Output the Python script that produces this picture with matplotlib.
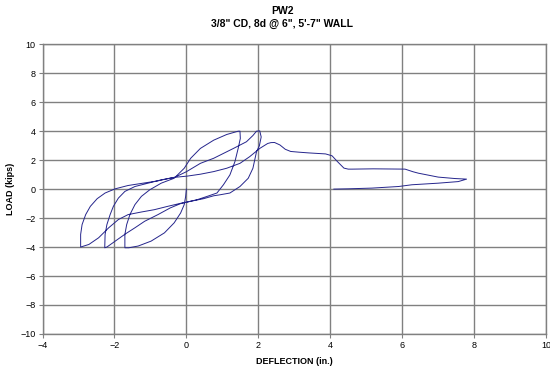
import matplotlib.pyplot as plt

plt.rcParams['font.family'] = ['Liberation Sans', 'DejaVu Sans']

# deflection (in.) and load (kips), in test order
# 0 -> N1 -> P1 -> N2 -> P2 -> N3 -> final push -> unload
defl = [0.0, -0.02, -0.06, -0.16, -0.34, -0.61, -0.98, -1.34, -1.6, -1.71,
        -1.71, -1.66, -1.57, -1.43, -1.25, -1.02, -0.7, -0.34, -0.06, 0.12, 0.39, 0.76, 1.12, 1.44, 1.49,
        1.5, 1.44, 1.35, 1.21, 1.03, 0.85, 0.58, 0.3, 0.03, -0.16, -0.45, -0.79, -1.16, -1.43, -1.7,
        -1.98, -2.21, -2.27,
        -2.26, -2.21, -2.12, -2.03, -1.89, -1.71, -1.43, -1.07, -0.7, -0.34, 0.0, 0.39, 0.76, 1.31,
        1.67, 1.85, 1.95, 2.04,
        2.08, 2.03, 1.95, 1.85, 1.72, 1.49, 1.21, 0.94, 0.76, 0.48, 0.03, -0.16, -0.52, -0.89, -1.25,
        -1.62, -1.89, -2.16, -2.44, -2.71, -2.94,
        -2.94, -2.9, -2.8, -2.67, -2.48, -2.26, -1.98, -1.62, -1.25, -0.79, -0.38, 0.03, 0.39, 0.76,
        1.12, 1.49, 1.76, 2.04, 2.26, 2.35, 2.45, 2.6, 2.75, 2.9, 3.13, 3.4, 3.87, 4.05, 4.2, 4.38,
        4.5, 4.61, 5.2, 6.08, 6.3, 6.45, 7.0, 7.47, 7.79,
        7.56, 7.0, 6.27, 5.9, 5.16, 4.5, 4.1]
load = [0.0, -0.5, -1.07, -1.65, -2.33, -3.02, -3.59, -3.93, -4.05, -4.05,
        -3.13, -2.45, -1.76, -1.07, -0.5, -0.05, 0.41, 0.75, 1.44, 2.13, 2.81, 3.38, 3.77, 4.0, 4.0,
        3.5, 2.81, 1.9, 0.98, 0.3, -0.27, -0.5, -0.73, -0.89, -1.0, -1.3, -1.76, -2.22, -2.67, -3.1,
        -3.59, -4.0, -4.05,
        -3.13, -2.45, -1.76, -1.19, -0.62, -0.16, 0.18, 0.41, 0.64, 0.8, 1.2, 1.78, 2.13, 2.81,
        3.27, 3.7, 4.0, 4.02,
        3.6, 3.0, 2.58, 1.44, 0.75, 0.18, -0.27, -0.39, -0.46, -0.66, -0.89, -0.98, -1.19, -1.42, -1.58,
        -1.76, -2.1, -2.67, -3.36, -3.82, -4.0,
        -3.13, -2.45, -1.76, -1.19, -0.66, -0.27, 0.02, 0.25, 0.39, 0.57, 0.8, 0.9, 1.03, 1.21,
        1.44, 1.78, 2.24, 2.81, 3.15, 3.21, 3.22, 3.05, 2.75, 2.6, 2.55, 2.5, 2.43, 2.3, 1.9, 1.45,
        1.38, 1.38, 1.4, 1.38, 1.2, 1.1, 0.83, 0.73, 0.69,
        0.52, 0.41, 0.3, 0.18, 0.07, 0.02, 0.0]

x_ticks = [-4, -2, 0, 2, 4, 6, 8, 10]
y_ticks = [-10, -8, -6, -4, -2, 0, 2, 4, 6, 8, 10]

fig = plt.figure(figsize=(5.5, 3.69), dpi=100)
ax = fig.add_axes([0.0773, 0.095, 0.9155, 0.785])

ax.plot(defl, load, color='#25258c', lw=0.7)

ax.set_xlim(-4, 10)
ax.set_ylim(-10, 10)
ax.set_xticks(x_ticks)
ax.set_yticks(y_ticks)
ax.grid(True, color='#808080', lw=1.0)
ax.set_axisbelow(True)
for s in ax.spines.values():
    s.set_color('#808080')
    s.set_linewidth(1.0)
ax.tick_params(labelsize=6.5, length=3, color='#808080', pad=2)

ax.set_xlabel('DEFLECTION (in.)', fontsize=6.5, fontweight='bold', labelpad=5)
ax.set_ylabel('LOAD (kips)', fontsize=6.5, fontweight='bold', labelpad=4)

fig.text(0.513, 0.97, 'PW2', ha='center', va='center', fontsize=7.5, fontweight='bold')
fig.text(0.513, 0.935, '3/8" CD, 8d @ 6", 5\'-7" WALL', ha='center', va='center',
         fontsize=7.5, fontweight='bold')

fig.savefig('out.png', dpi=100)
